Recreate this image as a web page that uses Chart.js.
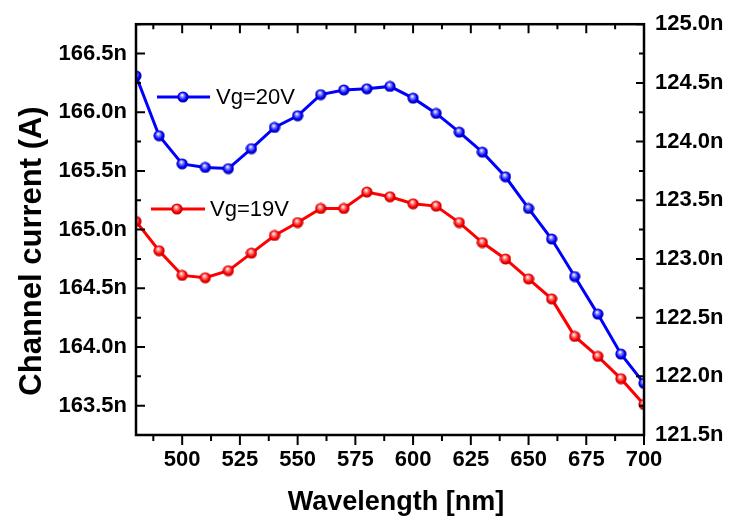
<!DOCTYPE html>
<html>
<head>
<meta charset="utf-8">
<script src="https://cdn.jsdelivr.net/npm/chart.js@4/dist/chart.umd.min.js"></script>
<style>
  html, body { margin: 0; padding: 0; background: #fff; }
</style>
</head>
<body>
<canvas id="c" width="730" height="520"></canvas>
<script>
// Channel current vs illumination wavelength, two gate voltages.
// Values in nA. Vg=20V on the left axis, Vg=19V on the right.

var WAVELENGTH = [480, 490, 500, 510, 520, 530, 540, 550, 560, 570, 580, 590,
                  600, 610, 620, 630, 640, 650, 660, 670, 680, 690, 700];
var I_VG20 = [166.31, 165.80, 165.56, 165.53, 165.52, 165.69, 165.87, 165.97, 166.15, 166.19, 166.20, 166.22,
              166.12, 165.99, 165.83, 165.66, 165.45, 165.18, 164.92, 164.60, 164.28, 163.94, 163.69];
var I_VG19 = [123.32, 123.07, 122.86, 122.84, 122.90, 123.05, 123.20, 123.31, 123.43, 123.43, 123.57, 123.53,
              123.47, 123.45, 123.31, 123.14, 123.00, 122.83, 122.66, 122.34, 122.17, 121.98, 121.76];

var X_TICKS = [500, 525, 550, 575, 600, 625, 650, 675, 700];
var LEFT_TICKS = [163.5, 164.0, 164.5, 165.0, 165.5, 166.0, 166.5];
var RIGHT_TICKS = [121.5, 122.0, 122.5, 123.0, 123.5, 124.0, 124.5, 125.0];

var SERIES_LABELS = ["Vg=20V", "Vg=19V"];
var X_TITLE = "Wavelength [nm]";
var Y_TITLE = "Channel current (A)";

var FONT = "'Liberation Sans', Arial, Helvetica, sans-serif";
var BLUE = "#0000ff", RED = "#ff0000";

// shaded sphere marker, like Origin's "ball" symbol
function ball(base, light, dark) {
  var c = document.createElement("canvas");
  c.width = 12; c.height = 12;
  var g = c.getContext("2d");
  var grad = g.createRadialGradient(5, 4, 0.3, 6, 6, 6);
  grad.addColorStop(0, "#ffffff");
  grad.addColorStop(0.25, light);
  grad.addColorStop(0.65, base);
  grad.addColorStop(1, dark);
  g.fillStyle = grad;
  g.beginPath(); g.arc(6, 6, 5.6, 0, Math.PI * 2); g.fill();
  return c;
}
var BALL_BLUE = ball(BLUE, "#8c8cff", "#00008a");
var BALL_RED = ball(RED, "#ff9090", "#a00000");

function pts(ys) {
  return WAVELENGTH.map(function (x, i) { return { x: x, y: ys[i] }; });
}

function fixTicks(list) {
  return function (s) { s.ticks = list.map(function (v) { return { value: v }; }); };
}

function halfSteps(list, min, max) {
  var step = list[1] - list[0], out = [];
  list.forEach(function (v) {
    [v - step / 2, v + step / 2].forEach(function (m) {
      if (m >= min - 1e-9 && m <= max + 1e-9 && out.indexOf(m) < 0) out.push(m);
    });
  });
  return out;
}

var tickFont = { family: FONT, size: 22, weight: "bold" };

// frame + Origin style tick marks (inward on left/top/right, outward on bottom)
var framePlugin = {
  id: "frame",
  afterDatasetsDraw: function (chart) {
    var ctx = chart.ctx, a = chart.chartArea, sc = chart.scales;
    ctx.save();
    ctx.strokeStyle = "#000";
    ctx.lineWidth = 2;
    ctx.beginPath();
    function tick(x1, y1, x2, y2) { ctx.moveTo(x1, y1); ctx.lineTo(x2, y2); }
    X_TICKS.forEach(function (v) {
      var x = sc.x.getPixelForValue(v);
      tick(x, a.bottom, x, a.bottom + 10);
      tick(x, a.top, x, a.top + 9);
    });
    halfSteps(X_TICKS, sc.x.min, sc.x.max).forEach(function (v) {
      var x = sc.x.getPixelForValue(v);
      tick(x, a.bottom, x, a.bottom + 6);
      tick(x, a.top, x, a.top + 5);
    });
    LEFT_TICKS.forEach(function (v) {
      var y = sc.y.getPixelForValue(v);
      tick(a.left, y, a.left + 9, y);
    });
    halfSteps(LEFT_TICKS, sc.y.min, sc.y.max).forEach(function (v) {
      var y = sc.y.getPixelForValue(v);
      tick(a.left, y, a.left + 5, y);
    });
    RIGHT_TICKS.forEach(function (v) {
      var y = sc.y1.getPixelForValue(v);
      tick(a.right, y, a.right - 8, y);
    });
    halfSteps(RIGHT_TICKS, sc.y1.min, sc.y1.max).forEach(function (v) {
      var y = sc.y1.getPixelForValue(v);
      tick(a.right, y, a.right - 5, y);
    });
    ctx.stroke();
    ctx.lineWidth = 2.5;
    ctx.strokeRect(a.left, a.top, a.right - a.left, a.bottom - a.top);
    ctx.restore();
  },
  afterDraw: function (chart) {
    var ctx = chart.ctx;
    ctx.save();
    // in-plot legend
    var items = [
      { label: SERIES_LABELS[0], color: BLUE, img: BALL_BLUE, x1: 157, x2: 210, mx: 183, tx: 216, y: 97 },
      { label: SERIES_LABELS[1], color: RED, img: BALL_RED, x1: 151, x2: 205, mx: 177, tx: 210, y: 209 }
    ];
    items.forEach(function (it) {
      ctx.strokeStyle = it.color; ctx.lineWidth = 3;
      ctx.beginPath(); ctx.moveTo(it.x1, it.y); ctx.lineTo(it.x2, it.y); ctx.stroke();
      ctx.drawImage(it.img, it.mx - 6, it.y - 6);
      ctx.fillStyle = "#000";
      ctx.font = "22px " + FONT;
      ctx.textBaseline = "middle"; ctx.textAlign = "left";
      ctx.fillText(it.label, it.tx, it.y + 1);
    });
    // axis titles
    ctx.fillStyle = "#000";
    ctx.font = "bold 27px " + FONT;
    ctx.textAlign = "center"; ctx.textBaseline = "alphabetic";
    ctx.fillText(X_TITLE, 396, 510);
    ctx.translate(41, 251);
    ctx.rotate(-Math.PI / 2);
    ctx.font = "bold 31px " + FONT;
    ctx.fillText(Y_TITLE, 0, 0);
    ctx.restore();
  }
};

new Chart(document.getElementById("c"), {
  type: "line",
  data: {
    datasets: [
      { label: SERIES_LABELS[0], data: pts(I_VG20), yAxisID: "y",
        borderColor: BLUE, backgroundColor: BLUE, borderWidth: 3,
        pointStyle: BALL_BLUE, pointRadius: 6, tension: 0 },
      { label: SERIES_LABELS[1], data: pts(I_VG19), yAxisID: "y1",
        borderColor: RED, backgroundColor: RED, borderWidth: 3,
        pointStyle: BALL_RED, pointRadius: 6, tension: 0 }
    ]
  },
  options: {
    responsive: false,
    animation: false,
    layout: { padding: { top: 23, left: 0, right: 0, bottom: 0 } },
    plugins: { legend: { display: false }, tooltip: { enabled: false } },
    scales: {
      x: {
        type: "linear", min: 480, max: 700,
        grid: { display: false, drawTicks: false }, border: { display: false },
        afterBuildTicks: fixTicks(X_TICKS),
        afterFit: function (s) { s.height = 85; },
        ticks: { color: "#000", font: tickFont, padding: 12, maxRotation: 0, autoSkip: false }
      },
      y: {
        position: "left", min: 163.25, max: 166.75,
        grid: { display: false, drawTicks: false }, border: { display: false },
        afterBuildTicks: fixTicks(LEFT_TICKS),
        afterFit: function (s) { s.width = 136; },
        ticks: { color: "#000", font: tickFont, padding: 9,
                 callback: function (v) { return v.toFixed(1) + "n"; } }
      },
      y1: {
        position: "right", min: 121.5, max: 125.0,
        grid: { display: false, drawTicks: false }, border: { display: false },
        afterBuildTicks: fixTicks(RIGHT_TICKS),
        afterFit: function (s) { s.width = 86; },
        ticks: { color: "#000", font: tickFont, padding: 11,
                 callback: function (v) { return v.toFixed(1) + "n"; } }
      }
    }
  },
  plugins: [framePlugin]
});
</script>
</body>
</html>
